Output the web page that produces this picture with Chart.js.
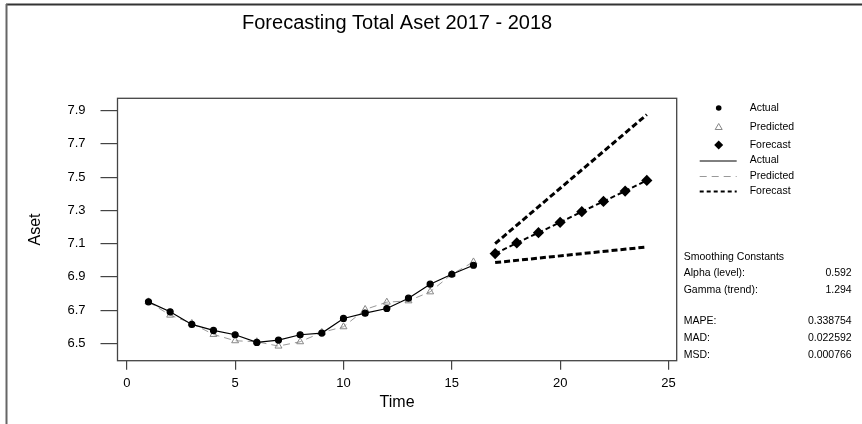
<!DOCTYPE html>
<html>
<head>
<meta charset="utf-8">
<script src="https://cdn.jsdelivr.net/npm/chart.js@4"></script>
<style>
  html, body { margin: 0; padding: 0; background: #fff; }
</style>
</head>
<body>
<canvas id="myChart" width="862" height="424"></canvas>
<script>
// data block
const timeActual = [1, 2, 3, 4, 5, 6, 7, 8, 9, 10, 11, 12, 13, 14, 15, 16];
const actualValues = [6.750, 6.690, 6.614, 6.578, 6.552, 6.506, 6.520, 6.552, 6.562, 6.650, 6.682, 6.710, 6.772, 6.856, 6.916, 6.970];
const predictedValues = [6.750, 6.670, 6.620, 6.554, 6.516, 6.510, 6.484, 6.510, 6.566, 6.600, 6.704, 6.748, 6.756, 6.810, 6.916, 6.990];
const timeForecast = [17, 18, 19, 20, 21, 22, 23, 24];
const forecastValues = [7.040, 7.104, 7.166, 7.228, 7.292, 7.354, 7.416, 7.480];
const timeBounds = [17, 24];
const upperValues = [7.100, 7.876];
const lowerValues = [6.986, 7.080];
const xTicks = [0, 5, 10, 15, 20, 25];
const yTicks = [6.5, 6.7, 6.9, 7.1, 7.3, 7.5, 7.7, 7.9];
const legendLabels = ['Actual', 'Predicted', 'Forecast', 'Actual', 'Predicted', 'Forecast'];
const statLabels = ['Alpha (level):', 'Gamma (trend):', 'MAPE:', 'MAD:', 'MSD:'];
const statValues = ['0.592', '1.294', '0.338754', '0.022592', '0.000766'];

const pairs = (xs, ys) => xs.map((x, i) => ({ x: x, y: ys[i] }));

const FONT = 'Liberation Sans, Arial, sans-serif';

// frame, legend and the smoothing constants box
const extras = {
    id: 'extras',
    beforeDraw(chart) {
        const ctx = chart.ctx;
        ctx.save();
        ctx.fillStyle = '#fff';
        ctx.fillRect(0, 0, chart.width, chart.height);
        ctx.strokeStyle = '#333';
        ctx.lineWidth = 2;
        ctx.beginPath();
        ctx.moveTo(6, 4.5);
        ctx.lineTo(chart.width, 4.5);
        ctx.stroke();
        ctx.strokeStyle = '#666';
        ctx.beginPath();
        ctx.moveTo(6.5, 4);
        ctx.lineTo(6.5, chart.height);
        ctx.stroke();
        ctx.restore();
    },
    afterDraw(chart) {
        const ctx = chart.ctx;
        const a = chart.chartArea;
        ctx.save();
        ctx.strokeStyle = '#444';
        ctx.lineWidth = 1.3;
        ctx.strokeRect(a.left, a.top, a.right - a.left, a.bottom - a.top);

        // legend
        const lx = a.right + 42;
        const tx = a.right + 73;
        ctx.fillStyle = '#000';
        ctx.beginPath();
        ctx.arc(lx, 108, 2.8, 0, Math.PI * 2);
        ctx.fill();

        ctx.strokeStyle = '#888';
        ctx.lineWidth = 1;
        ctx.beginPath();
        ctx.moveTo(lx, 123.5);
        ctx.lineTo(lx + 3.5, 129.5);
        ctx.lineTo(lx - 3.5, 129.5);
        ctx.closePath();
        ctx.stroke();

        ctx.fillStyle = '#000';
        ctx.beginPath();
        ctx.moveTo(lx, 140.5);
        ctx.lineTo(lx + 4.5, 145);
        ctx.lineTo(lx, 149.5);
        ctx.lineTo(lx - 4.5, 145);
        ctx.closePath();
        ctx.fill();

        ctx.strokeStyle = '#000';
        ctx.lineWidth = 1;
        ctx.beginPath();
        ctx.moveTo(a.right + 23, 161);
        ctx.lineTo(a.right + 60, 161);
        ctx.stroke();

        ctx.strokeStyle = '#999';
        ctx.setLineDash([7, 5]);
        ctx.beginPath();
        ctx.moveTo(a.right + 23, 176.5);
        ctx.lineTo(a.right + 60, 176.5);
        ctx.stroke();

        ctx.strokeStyle = '#000';
        ctx.lineWidth = 2;
        ctx.setLineDash([4, 3]);
        ctx.beginPath();
        ctx.moveTo(a.right + 23, 191.5);
        ctx.lineTo(a.right + 60, 191.5);
        ctx.stroke();
        ctx.setLineDash([]);

        ctx.font = '10.5px ' + FONT;
        ctx.fillStyle = '#000';
        ctx.textBaseline = 'middle';
        ctx.textAlign = 'left';
        const legendY = [108, 127, 145, 160, 176, 191];
        legendLabels.forEach((t, i) => ctx.fillText(t, tx, legendY[i]));

        // smoothing constants and accuracy measures
        const sx = a.right + 7;
        const vx = a.right + 175;
        ctx.fillText('Smoothing Constants', sx, 257);
        const statY = [273.5, 290, 321.5, 338.5, 355];
        statLabels.forEach((t, i) => {
            ctx.textAlign = 'left';
            ctx.fillText(t, sx, statY[i]);
            ctx.textAlign = 'right';
            ctx.fillText(statValues[i], vx, statY[i]);
        });
        ctx.restore();
    }
};

// config block
const config = {
    type: 'line',
    data: {
        datasets: [{
            label: 'Actual',
            data: pairs(timeActual, actualValues),
            borderColor: '#000',
            borderWidth: 1.2,
            pointStyle: 'circle',
            pointRadius: 3,
            pointBackgroundColor: '#000',
            pointBorderColor: '#000',
            tension: 0
        }, {
            label: 'Predicted',
            data: pairs(timeActual, predictedValues),
            borderColor: '#999',
            borderWidth: 1,
            borderDash: [7, 5],
            pointStyle: 'triangle',
            pointRadius: 4,
            pointBackgroundColor: 'rgba(255,255,255,0)',
            pointBorderColor: '#888',
            pointBorderWidth: 1,
            tension: 0
        }, {
            label: 'Forecast',
            data: pairs(timeForecast, forecastValues),
            borderColor: '#000',
            borderWidth: 2,
            borderDash: [5, 3],
            pointStyle: 'rectRot',
            pointRadius: 4.2,
            pointBackgroundColor: '#000',
            pointBorderColor: '#000',
            tension: 0
        }, {
            label: 'Upper',
            data: pairs(timeBounds, upperValues),
            borderColor: '#000',
            borderWidth: 3,
            borderDash: [6, 3],
            pointRadius: 0,
            tension: 0
        }, {
            label: 'Lower',
            data: pairs(timeBounds, lowerValues),
            borderColor: '#000',
            borderWidth: 3,
            borderDash: [6, 3],
            pointRadius: 0,
            tension: 0
        }]
    },
    options: {
        responsive: false,
        animation: false,
        layout: {
            padding: { left: 0, right: 185.3, top: 0, bottom: 0 }
        },
        scales: {
            x: {
                type: 'linear',
                min: -0.43,
                max: 25.38,
                afterBuildTicks: (scale) => { scale.ticks = xTicks.map(v => ({ value: v })); },
                afterFit: (scale) => { scale.height = 63.3; },
                border: { display: false },
                grid: {
                    drawOnChartArea: false,
                    drawTicks: true,
                    tickLength: 9,
                    color: '#444',
                    lineWidth: 1.2
                },
                ticks: {
                    padding: 6,
                    color: '#000',
                    font: { family: FONT, size: 13 }
                },
                title: {
                    display: true,
                    text: 'Time',
                    color: '#000',
                    font: { family: FONT, size: 16 },
                    padding: { top: 0, bottom: 12 }
                }
            },
            y: {
                min: 6.396,
                max: 7.974,
                afterBuildTicks: (scale) => { scale.ticks = yTicks.map(v => ({ value: v })); },
                afterFit: (scale) => { scale.width = 117.5; },
                border: { display: false },
                grid: {
                    drawOnChartArea: false,
                    drawTicks: true,
                    tickLength: 17,
                    color: '#444',
                    lineWidth: 1.2
                },
                ticks: {
                    padding: 15,
                    color: '#000',
                    font: { family: FONT, size: 13 },
                    callback: (v) => v.toFixed(1)
                },
                title: {
                    display: true,
                    text: 'Aset',
                    color: '#000',
                    font: { family: FONT, size: 16 },
                    padding: { top: 26.4, bottom: 0 }
                }
            }
        },
        plugins: {
            legend: { display: false },
            tooltip: { enabled: false },
            title: {
                display: true,
                text: 'Forecasting Total Aset 2017 - 2018',
                fullSize: false,
                color: '#000',
                font: { family: FONT, size: 20, weight: 'normal' },
                padding: { top: 11, bottom: 63.3 }
            }
        }
    },
    plugins: [extras]
};

// init render block
const myChart = new Chart(
    document.getElementById('myChart'),
    config
);
</script>
</body>
</html>
